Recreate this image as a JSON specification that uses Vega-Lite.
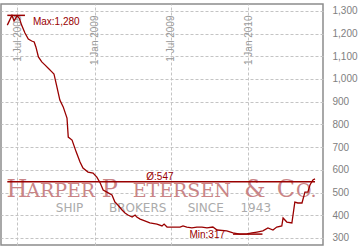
{
  "$schema": "https://vega.github.io/schema/vega-lite/v6.json",
  "width": 322,
  "height": 241,
  "autosize": {"type": "none"},
  "padding": {"left": 1, "top": 4, "right": 37, "bottom": 1},
  "background": "#ffffff",
  "config": {
    "view": {"stroke": "#8c8c8c", "strokeWidth": 1.5},
    "text": {"font": "Liberation Sans"}
  },
  "encoding": {
    "x": {
      "field": "date",
      "type": "temporal",
      "scale": {
        "type": "utc",
        "domain": [
          {"year": 2008, "month": 5, "date": 23, "utc": true},
          {"year": 2010, "month": 6, "date": 28, "utc": true}
        ]
      },
      "axis": {
        "orient": "top",
        "values": [
          {"year": 2008, "month": 7, "date": 1, "utc": true},
          {"year": 2009, "month": 1, "date": 1, "utc": true},
          {"year": 2009, "month": 7, "date": 1, "utc": true},
          {"year": 2010, "month": 1, "date": 1, "utc": true}
        ],
        "labelExpr": "utcFormat(datum.value, '%-d %b %Y')",
        "labelAngle": -90,
        "labelAlign": "right",
        "labelBaseline": "middle",
        "labelPadding": -11,
        "labelOverlap": false,
        "labelFlush": false,
        "labelBound": false,
        "ticks": false,
        "domain": false,
        "title": null,
        "grid": true,
        "gridColor": "#c4c4c4",
        "gridDash": [3, 2],
        "labelColor": "#9a9a9a",
        "labelFont": "Liberation Sans",
        "labelFontSize": 10
      }
    },
    "y": {
      "field": "value",
      "type": "quantitative",
      "scale": {"domain": [269, 1330], "nice": false, "zero": false},
      "axis": {
        "orient": "right",
        "values": [300, 400, 500, 600, 700, 800, 900, 1000, 1100, 1200, 1300],
        "labelExpr": "format(datum.value, ',.0f')",
        "ticks": false,
        "domain": false,
        "title": null,
        "grid": true,
        "gridColor": "#c4c4c4",
        "gridDash": [3, 2],
        "labelPadding": 9,
        "labelColor": "#808080",
        "labelFont": "Liberation Sans",
        "labelFontSize": 10
      }
    }
  },
  "layer": [
    {
      "data": {"values": [
        {"label": "H", "date": "2008-06-30", "value": 480},
        {"label": "P", "date": "2009-02-06", "value": 480},
        {"label": "&", "date": "2010-01-17", "value": 480},
        {"label": "C", "date": "2010-04-01", "value": 480}
      ]},
      "mark": {"type": "text", "font": "DejaVu Serif", "fontSize": 24, "align": "center", "baseline": "alphabetic", "color": "#c98486"},
      "encoding": {"text": {"field": "label"}}
    },
    {
      "data": {"values": [
        {"label": "ARPER", "date": "2008-10-12", "value": 480},
        {"label": "ETERSEN", "date": "2009-07-27", "value": 480},
        {"label": "O.", "date": "2010-05-19", "value": 480}
      ]},
      "mark": {"type": "text", "font": "DejaVu Serif", "fontSize": 19, "align": "center", "baseline": "alphabetic", "color": "#c98486"},
      "encoding": {"text": {"field": "label"}}
    },
    {
      "data": {"values": [
        {"label": "SHIP", "date": "2008-11-02", "value": 414},
        {"label": "BROKERS", "date": "2009-04-13", "value": 414},
        {"label": "SINCE", "date": "2009-09-22", "value": 414},
        {"label": "1943", "date": "2010-01-19", "value": 414}
      ]},
      "mark": {"type": "text", "font": "DejaVu Sans", "fontSize": 12, "align": "center", "baseline": "alphabetic", "color": "#ababab"},
      "encoding": {"text": {"field": "label"}}
    },
    {
      "data": {"values": [
        {"kind": "avg", "date": "2008-06-07", "date2": "2010-06-09", "value": 547},
        {"kind": "max", "date": "2008-06-07", "date2": "2008-07-19", "value": 1280},
        {"kind": "min", "date": "2009-11-26", "date2": "2010-02-04", "value": 317}
      ]},
      "mark": {"type": "rule", "color": "#990000", "strokeWidth": 1.5},
      "encoding": {"x2": {"field": "date2"}}
    },
    {
      "data": {"values": [
        {"date": "2008-06-07", "value": 1237},
        {"date": "2008-06-18", "value": 1280},
        {"date": "2008-06-23", "value": 1255},
        {"date": "2008-06-30", "value": 1278},
        {"date": "2008-07-06", "value": 1266},
        {"date": "2008-07-11", "value": 1237},
        {"date": "2008-07-19", "value": 1202},
        {"date": "2008-07-27", "value": 1176},
        {"date": "2008-08-04", "value": 1167},
        {"date": "2008-08-10", "value": 1163},
        {"date": "2008-08-14", "value": 1141},
        {"date": "2008-08-20", "value": 1097},
        {"date": "2008-08-28", "value": 1075},
        {"date": "2008-09-05", "value": 1061},
        {"date": "2008-09-13", "value": 1046},
        {"date": "2008-09-21", "value": 1031},
        {"date": "2008-09-26", "value": 1022},
        {"date": "2008-10-03", "value": 965},
        {"date": "2008-10-10", "value": 907},
        {"date": "2008-10-18", "value": 877},
        {"date": "2008-10-27", "value": 828},
        {"date": "2008-10-30", "value": 744},
        {"date": "2008-11-08", "value": 731},
        {"date": "2008-11-18", "value": 678},
        {"date": "2008-11-27", "value": 634},
        {"date": "2008-12-04", "value": 608},
        {"date": "2008-12-16", "value": 590},
        {"date": "2008-12-28", "value": 586},
        {"date": "2009-01-06", "value": 568},
        {"date": "2009-01-14", "value": 542},
        {"date": "2009-01-21", "value": 511},
        {"date": "2009-01-30", "value": 502},
        {"date": "2009-02-11", "value": 489},
        {"date": "2009-02-18", "value": 458},
        {"date": "2009-02-25", "value": 445},
        {"date": "2009-03-07", "value": 423},
        {"date": "2009-03-14", "value": 410},
        {"date": "2009-03-21", "value": 401},
        {"date": "2009-03-31", "value": 392},
        {"date": "2009-04-07", "value": 401},
        {"date": "2009-04-11", "value": 392},
        {"date": "2009-04-19", "value": 383},
        {"date": "2009-04-30", "value": 375},
        {"date": "2009-05-12", "value": 366},
        {"date": "2009-05-29", "value": 361},
        {"date": "2009-06-10", "value": 353},
        {"date": "2009-06-15", "value": 361},
        {"date": "2009-06-22", "value": 348},
        {"date": "2009-07-06", "value": 348},
        {"date": "2009-07-23", "value": 348},
        {"date": "2009-07-30", "value": 353},
        {"date": "2009-08-08", "value": 348},
        {"date": "2009-08-20", "value": 344},
        {"date": "2009-09-01", "value": 348},
        {"date": "2009-09-13", "value": 348},
        {"date": "2009-09-25", "value": 344},
        {"date": "2009-10-09", "value": 348},
        {"date": "2009-10-19", "value": 335},
        {"date": "2009-11-11", "value": 331},
        {"date": "2009-11-26", "value": 322},
        {"date": "2009-12-12", "value": 317},
        {"date": "2009-12-29", "value": 318},
        {"date": "2010-01-10", "value": 322},
        {"date": "2010-01-22", "value": 326},
        {"date": "2010-02-05", "value": 331},
        {"date": "2010-02-17", "value": 344},
        {"date": "2010-03-01", "value": 335},
        {"date": "2010-03-10", "value": 348},
        {"date": "2010-03-22", "value": 353},
        {"date": "2010-03-25", "value": 388},
        {"date": "2010-04-03", "value": 370},
        {"date": "2010-04-15", "value": 366},
        {"date": "2010-04-22", "value": 458},
        {"date": "2010-04-29", "value": 454},
        {"date": "2010-05-09", "value": 454},
        {"date": "2010-05-16", "value": 502},
        {"date": "2010-05-23", "value": 502},
        {"date": "2010-05-28", "value": 533},
        {"date": "2010-06-04", "value": 555},
        {"date": "2010-06-09", "value": 560}
      ]},
      "mark": {"type": "line", "color": "#990000", "strokeWidth": 1.3, "interpolate": "linear"},
      "encoding": {}
    },
    {
      "data": {"values": [{"label": "Max:1,280", "date": "2008-08-07", "value": 1280}]},
      "mark": {"type": "text", "fontSize": 10, "align": "left", "baseline": "middle", "dy": 7, "color": "#990000"},
      "encoding": {"text": {"field": "label"}}
    },
    {
      "data": {"values": [{"label": "Min:317", "date": "2009-11-26", "value": 317}]},
      "mark": {"type": "text", "fontSize": 10, "align": "right", "baseline": "middle", "dx": -8, "dy": 1, "color": "#990000"},
      "encoding": {"text": {"field": "label"}}
    },
    {
      "data": {"values": [{"label": "Ø:547", "date": "2009-06-05", "value": 547}]},
      "mark": {"type": "text", "fontSize": 10, "align": "center", "baseline": "alphabetic", "dy": -2, "color": "#990000"},
      "encoding": {"text": {"field": "label"}}
    }
  ]
}
